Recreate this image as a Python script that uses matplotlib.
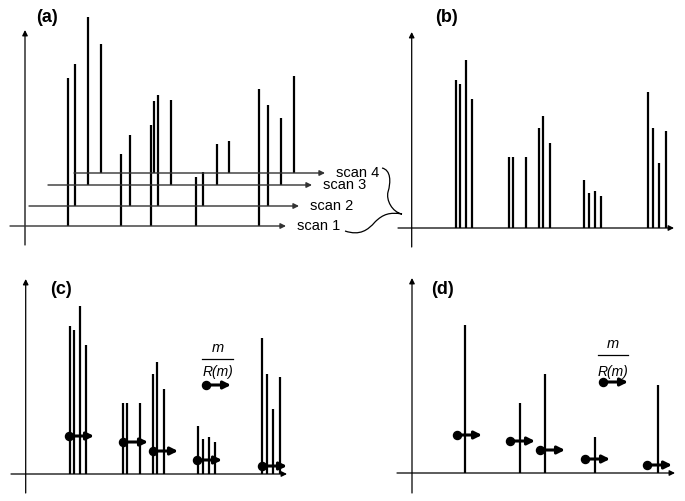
import matplotlib
matplotlib.use("Agg")
import matplotlib.pyplot as plt
from matplotlib.path import Path
from matplotlib.patches import PathPatch

plt.rcParams["font.family"] = ["Liberation Sans", "DejaVu Sans"]

# ---- panel (a): four individual scans, stacked in perspective ----
scan_labels = ["scan 1", "scan 2", "scan 3", "scan 4"]
scan_base = [0, 20, 41, 53]          # baseline height of each scan
scan_start = [-15, 4, 23, 49]        # left end of each scan axis
scan_end = [261, 274, 287, 300]      # arrow tip of each scan axis
scan_pos = [
    [42.7, 96, 126, 170.7, 234.3],
    [50, 105, 132.7, 178.3, 242.7],
    [63, 146, 191.7, 255.7],
    [76, 129.3, 204.3, 269],
]
scan_int = [
    [148, 72, 101, 49, 137],
    [142, 71, 111, 34, 101],
    [168, 85, 41, 67],
    [129, 72, 32, 97],
]

# ---- panels (b) and (c): merged spectrum ----
merged_pos = [44, 48.3, 54, 60.6, 97.3, 101.3, 114.3, 127.3, 131.3, 138.3,
              172.3, 177.3, 183.3, 189.3, 236.3, 241.3, 247.3, 254.3]
merged_int = [148, 144, 168, 129, 71, 71, 71, 100, 112, 85,
              48, 35, 37, 32, 136, 100, 65, 97]

# cluster start and m/R(m) for each cluster (panel c)
c_mark_pos = [43.3, 97.3, 127.3, 171.3, 236.3]
c_mark_val = [38, 32, 23, 14, 8]

# ---- panel (d): one peak per cluster ----
d_pos = [53, 108, 133, 183, 246]
d_int = [148, 70, 99, 36, 88]
d_mark_pos = [45, 98, 128, 173, 235]
d_mark_val = [38, 32, 23, 14, 8]

ARROW_LEN = 25
PEAK_LW = 1.6
AX_LW = 0.9

fig = plt.figure(figsize=(6.85, 5.01), dpi=100)

# quadrant axes, 1 data unit = 1 pixel, origin at each panel's axis crossing
ax_a = fig.add_axes([0, 0.5, 0.5, 0.5])
ax_b = fig.add_axes([0.5, 0.5, 0.5, 0.5])
ax_c = fig.add_axes([0, 0, 0.5, 0.5])
ax_d = fig.add_axes([0.5, 0, 0.5, 0.5])
ax_a.set_xlim(-25, 317.5); ax_a.set_ylim(-24.5, 226)
ax_b.set_xlim(-69.2, 273.3); ax_b.set_ylim(-22.5, 228)
ax_c.set_xlim(-25.7, 316.8); ax_c.set_ylim(-27, 223.5)
ax_d.set_xlim(-69.5, 273); ax_d.set_ylim(-28, 222.5)
for ax in (ax_a, ax_b, ax_c, ax_d):
    ax.set_axis_off()
ax_a.set_zorder(5)


def arrow(ax, x0, y0, x1, y1, lw=AX_LW, color="k", ms=8):
    ax.annotate("", xy=(x1, y1), xytext=(x0, y0),
                arrowprops=dict(arrowstyle="-|>", lw=lw, color=color,
                                mutation_scale=ms, shrinkA=0, shrinkB=0),
                annotation_clip=False)


def marker(ax, x, y):
    ax.plot([x], [y], "o", color="k", ms=5.8, zorder=6, clip_on=False)
    arrow(ax, x, y, x + ARROW_LEN, y, lw=2.2, ms=11)


def legend_fraction(ax, xc, y_m, y_bar, y_r, bar_w, dot_x, dot_y):
    ax.text(xc, y_m, "m", style="italic", fontsize=10.5, ha="center", va="center")
    ax.plot([xc - bar_w / 2, xc + bar_w / 2], [y_bar, y_bar], color="k", lw=0.9)
    ax.text(xc, y_r, "R(m)", style="italic", fontsize=10, ha="center", va="center")
    marker(ax, dot_x, dot_y)


# panel (a)
arrow(ax_a, 0, -19, 0, 196)
for k in range(4):
    b = scan_base[k]
    arrow(ax_a, scan_start[k], b, scan_end[k], b, lw=1.0, color="0.2")
    ax_a.vlines(scan_pos[k], b, [b + h for h in scan_int[k]], color="k", lw=PEAK_LW)
    ax_a.text(scan_end[k] + 11, b, scan_labels[k], fontsize=10.5,
              ha="left", va="center")

brace = Path(
    [(357, 58), (366, 56), (366, 44), (363, 34),
     (361, 26), (367, 14), (377, 12),
     (365, 14), (358, 12), (350, 4),
     (343, -4), (335, -10), (320, -5)],
    [Path.MOVETO] + [Path.CURVE4] * 12,
)
ax_a.add_patch(PathPatch(brace, fill=False, lw=0.9, color="k", clip_on=False))
ax_a.text(22, 208, "(a)", fontsize=13, fontweight="bold", ha="center", va="center")

# panel (b)
arrow(ax_b, 0, -19, 0, 196)
arrow(ax_b, -13.7, 0, 262.3, 0)
ax_b.vlines(merged_pos, 0, merged_int, color="k", lw=PEAK_LW)
ax_b.text(34.3, 211, "(b)", fontsize=13, fontweight="bold", ha="center", va="center")

# panel (c)
arrow(ax_c, 0, -19, 0, 195)
arrow(ax_c, -14.7, 0, 261.3, 0)
ax_c.vlines(merged_pos, 0, merged_int, color="k", lw=PEAK_LW)
for x, v in zip(c_mark_pos, c_mark_val):
    marker(ax_c, x, v)
legend_fraction(ax_c, 192, 126, 115, 102, 31, 180.3, 89)
ax_c.text(35.3, 184, "(c)", fontsize=13, fontweight="bold", ha="center", va="center")

# panel (d)
arrow(ax_d, 0, -20, 0, 195)
arrow(ax_d, -15, 0, 263, 0)
ax_d.vlines(d_pos, 0, d_int, color="k", lw=PEAK_LW)
for x, v in zip(d_mark_pos, d_mark_val):
    marker(ax_d, x, v)
legend_fraction(ax_d, 201, 129, 118, 101, 30, 191, 91)
ax_d.text(31, 183, "(d)", fontsize=13, fontweight="bold", ha="center", va="center")

fig.savefig("out.png", dpi=100)
